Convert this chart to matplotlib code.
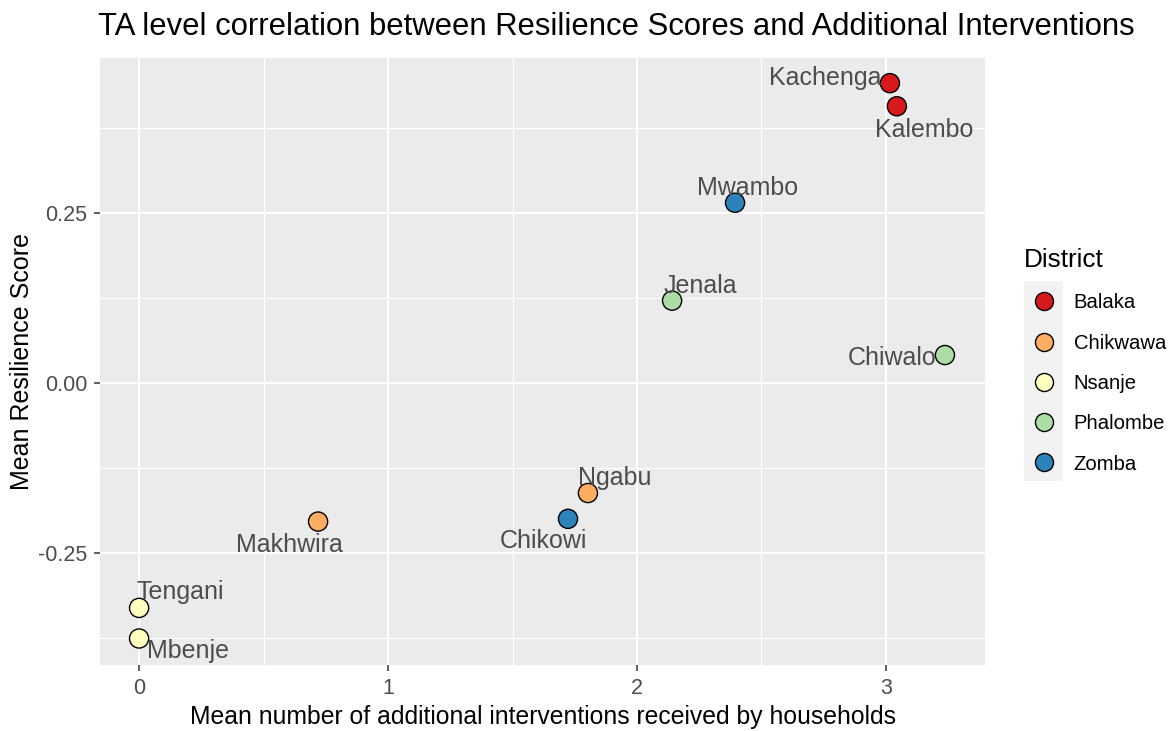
import matplotlib
matplotlib.use("Agg")
import matplotlib.pyplot as plt
from matplotlib.patches import Rectangle
from matplotlib.lines import Line2D

plt.rcParams['font.family'] = ['Liberation Sans', 'DejaVu Sans']

# ---- data ----
names = ["Kachenga", "Kalembo", "Mwambo", "Jenala", "Chiwalo",
         "Ngabu", "Chikowi", "Makhwira", "Tengani", "Mbenje"]
districts = ["Balaka", "Balaka", "Zomba", "Phalombe", "Phalombe",
             "Chikwawa", "Zomba", "Chikwawa", "Nsanje", "Nsanje"]
interventions = [3.016, 3.044, 2.394, 2.141, 3.237, 1.803, 1.723, 0.719, 0.0, 0.0]
resilience = [0.441, 0.407, 0.265, 0.121, 0.041, -0.162, -0.200, -0.204, -0.331, -0.376]
district_levels = ["Balaka", "Chikwawa", "Nsanje", "Phalombe", "Zomba"]
district_colors = ["#D7191C", "#FDAE61", "#FFFFBF", "#ABDDA4", "#2B83BA"]
# label offsets in pixels (repel-like placement)
label_dx = [-65, 27, 13, 28, -53, 27, -25, -29, 41, 49]
label_dy = [5, -24, 15, 15, -3, 15, -22, -23, 16, -13]
x_ticks = [0, 1, 2, 3]
y_ticks = [-0.25, 0.0, 0.25]
y_ticklabels = ["-0.25", "0.00", "0.25"]

W, H = 1176, 731
fig = plt.figure(figsize=(W / 100, H / 100), dpi=100)
ax = fig.add_axes([100 / W, 1 - 665 / H, (985 - 100) / W, (665 - 58) / H])
ax.set_facecolor("#EBEBEB")
for s in ax.spines.values():
    s.set_visible(False)

ax.set_xlim(-0.157, 3.398)
ax.set_ylim(-0.415, 0.478)
ax.set_xticks(x_ticks)
ax.set_xticklabels([str(t) for t in x_ticks])
ax.set_yticks(y_ticks)
ax.set_yticklabels(y_ticklabels)
ax.set_xticks([0.5, 1.5, 2.5], minor=True)
ax.set_yticks([-0.375, -0.125, 0.125, 0.375], minor=True)
ax.grid(which="major", color="white", linewidth=1.5)
ax.grid(which="minor", color="white", linewidth=0.75)
ax.set_axisbelow(True)
ax.tick_params(which="major", length=4, width=1.1, color="#333333",
               labelcolor="#4D4D4D", labelsize=15.5, pad=5)
ax.tick_params(which="minor", length=0)

cmap = dict(zip(district_levels, district_colors))
ax.scatter(interventions, resilience, c=[cmap[d] for d in districts],
           s=190, edgecolors="black", linewidths=1.0, zorder=3)

for n, x, y, dx, dy in zip(names, interventions, resilience, label_dx, label_dy):
    ax.annotate(n, (x, y), xytext=(dx, dy), textcoords="offset pixels",
                ha="center", va="center", fontsize=18, color="#4D4D4D", zorder=4)

ax.set_xlabel("Mean number of additional interventions received by households",
              fontsize=17.8, color="black", labelpad=5)
ax.set_ylabel("Mean Resilience Score", fontsize=18, color="black", labelpad=3)
fig.text(98 / W, 1 - 27 / H,
         "TA level correlation between Resilience Scores and Additional Interventions",
         fontsize=22.3, ha="left", va="center", color="black")

# legend
fig.patches.append(Rectangle((1024 / W, 1 - 481 / H), 39 / W, 200 / H,
                             transform=fig.transFigure, facecolor="#F2F2F2",
                             edgecolor="none", zorder=0))
handles = [Line2D([], [], marker="o", linestyle="none", markersize=13,
                  markerfacecolor=c, markeredgecolor="black", markeredgewidth=1.0)
           for c in district_colors]
leg = fig.legend(handles, district_levels, title="District",
                 loc="upper left", bbox_to_anchor=(1016 / W, 1 - 240 / H),
                 frameon=False, fontsize=14.6, title_fontsize=18.8,
                 labelspacing=1.05, handletextpad=0.45, borderaxespad=0)
leg._legend_box.align = "left"

fig.savefig("out.png", dpi=100)
